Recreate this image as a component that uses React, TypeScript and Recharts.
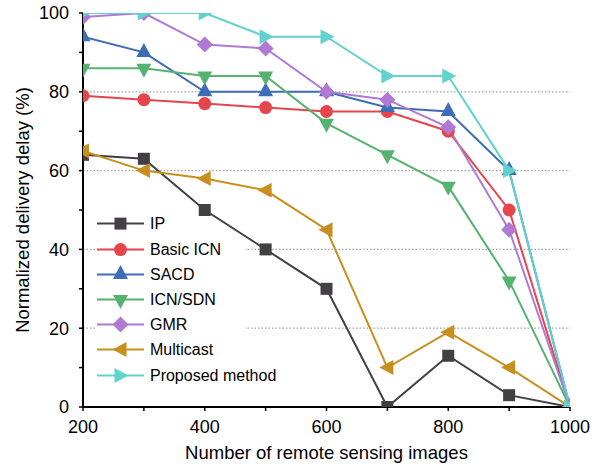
import React from "react";
import { LineChart, Line, XAxis, YAxis, ReferenceLine } from "recharts";

const imageCounts = [200, 300, 400, 500, 600, 700, 800, 900, 1000];
const ipDelay = [64, 63, 50, 40, 30, 0, 13, 3, 0];
const basicIcnDelay = [79, 78, 77, 76, 75, 75, 70, 50, 0];
const sacdDelay = [94, 90, 80, 80, 80, 76, 75, 60, 0];
const icnSdnDelay = [86, 86, 84, 84, 72, 64, 56, 32, 0];
const gmrDelay = [99, 100, 92, 91, 80, 78, 71, 45, 0];
const multicastDelay = [65, 60, 58, 55, 45, 10, 19, 10, 0];
const proposedDelay = [100, 100, 100, 94, 94, 84, 84, 60, 0];

const xTicks = [200, 300, 400, 500, 600, 700, 800, 900, 1000];
const yTicks = [0, 10, 20, 30, 40, 50, 60, 70, 80, 90, 100];
const gridValues = [20, 40, 60, 80];

const FONT = "'Liberation Sans', Arial, Helvetica, sans-serif";

type Shape = "square" | "circle" | "up" | "down" | "diamond" | "left" | "right";

const series: { key: string; name: string; color: string; shape: Shape; values: number[] }[] = [
  { key: "ip", name: "IP", color: "#433f45", shape: "square", values: ipDelay },
  { key: "basic", name: "Basic ICN", color: "#e6454b", shape: "circle", values: basicIcnDelay },
  { key: "sacd", name: "SACD", color: "#3c6db6", shape: "up", values: sacdDelay },
  { key: "icnsdn", name: "ICN/SDN", color: "#56b26f", shape: "down", values: icnSdnDelay },
  { key: "gmr", name: "GMR", color: "#b07ad4", shape: "diamond", values: gmrDelay },
  { key: "multicast", name: "Multicast", color: "#c88f1f", shape: "left", values: multicastDelay },
  { key: "proposed", name: "Proposed method", color: "#62d2cf", shape: "right", values: proposedDelay },
];

const data = imageCounts.map((x, i) => {
  const row: Record<string, number> = { x };
  series.forEach((s) => {
    row[s.key] = s.values[i];
  });
  return row;
});

function markerEl(shape: Shape, cx: number, cy: number, color: string, key?: any) {
  switch (shape) {
    case "square":
      return <rect key={key} x={cx - 6} y={cy - 6} width={12} height={12} fill={color} />;
    case "circle":
      return <circle key={key} cx={cx} cy={cy} r={6.5} fill={color} />;
    case "up":
      return (
        <polygon key={key} points={`${cx},${cy - 9.5} ${cx - 7.5},${cy + 4.5} ${cx + 7.5},${cy + 4.5}`} fill={color} />
      );
    case "down":
      return (
        <polygon key={key} points={`${cx},${cy + 9.5} ${cx - 7.5},${cy - 4.5} ${cx + 7.5},${cy - 4.5}`} fill={color} />
      );
    case "diamond":
      return (
        <polygon key={key} points={`${cx},${cy - 8} ${cx + 8},${cy} ${cx},${cy + 8} ${cx - 8},${cy}`} fill={color} />
      );
    case "left":
      return (
        <polygon key={key} points={`${cx - 8},${cy} ${cx + 6},${cy - 7.5} ${cx + 6},${cy + 7.5}`} fill={color} />
      );
    case "right":
      return (
        <polygon key={key} points={`${cx + 8},${cy} ${cx - 6},${cy - 7.5} ${cx - 6},${cy + 7.5}`} fill={color} />
      );
  }
  return null;
}

const YTick = (props: any) => {
  const { x, y, payload } = props;
  if (payload.value % 20 !== 0) return <g />;
  return (
    <text x={x} y={y} dy="0.355em" textAnchor="end" fontSize={18} fill="#000" fontFamily={FONT}>
      {payload.value}
    </text>
  );
};

const XTick = (props: any) => {
  const { x, y, payload } = props;
  if (payload.value % 200 !== 0) return <g />;
  return (
    <text x={x} y={y} dy="0.71em" textAnchor="middle" fontSize={18} fill="#000" fontFamily={FONT}>
      {payload.value}
    </text>
  );
};

const XTitle = (props: any) => {
  const vb = props.viewBox || {};
  return (
    <text x={vb.x + vb.width / 2} y={vb.y + 52} textAnchor="middle" fontSize={18.5} fill="#000" fontFamily={FONT}>
      Number of remote sensing images
    </text>
  );
};

const YTitle = (props: any) => {
  const vb = props.viewBox || {};
  const cx = 29;
  const cy = vb.y + vb.height / 2;
  return (
    <text
      x={cx}
      y={cy}
      transform={`rotate(-90 ${cx} ${cy})`}
      textAnchor="middle"
      fontSize={18.5}
      fill="#000"
      fontFamily={FONT}
    >
      Normalized delivery delay (%)
    </text>
  );
};

const LegendBox = () => (
  <div
    style={{
      position: "absolute",
      left: 97,
      top: 211.4,
      fontFamily: FONT,
      fontSize: 16,
      color: "#000",
    }}
  >
    {series.map((s, i) => (
      <div
        key={s.key}
        style={{
          height: 25.2,
          width: 148,
          display: "flex",
          alignItems: "center",
          whiteSpace: "nowrap",
          background: i === 0 ? "transparent" : "#fff",
        }}
      >
        <svg width={48} height={25.2} style={{ display: "block", overflow: "visible" }}>
          <line x1={0} x2={47} y1={12.6} y2={12.6} stroke={s.color} strokeWidth={2} />
          {markerEl(s.shape, 23.5, 12.6, s.color)}
        </svg>
        <span style={{ marginLeft: 5, lineHeight: "25.2px" }}>{s.name}</span>
      </div>
    ))}
  </div>
);

export default function App() {
  return (
    <div style={{ position: "absolute", left: 0, top: 0, width: 606, height: 469, background: "#fff" }}>
      <LineChart
        width={606}
        height={469}
        data={data}
        margin={{ top: 13, right: 36, left: 0, bottom: 0 }}
        style={{ fontFamily: FONT }}
      >
        <XAxis
          dataKey="x"
          type="number"
          domain={[200, 1000]}
          ticks={xTicks}
          allowDataOverflow
          height={62}
          tickSize={4}
          tickMargin={9}
          tick={<XTick />}
          axisLine={{ stroke: "#000", strokeWidth: 2 }}
          tickLine={{ stroke: "#000", strokeWidth: 1.5 }}
          label={<XTitle />}
        />
        <YAxis
          type="number"
          domain={[0, 100]}
          ticks={yTicks}
          allowDataOverflow
          width={83}
          tickSize={4}
          tickMargin={10}
          tick={<YTick />}
          axisLine={{ stroke: "#000", strokeWidth: 2 }}
          tickLine={{ stroke: "#000", strokeWidth: 1.5 }}
          label={<YTitle />}
        />
        {gridValues.map((v) => (
          <ReferenceLine key={v} y={v} stroke="#a0a0a0" strokeWidth={1.2} strokeDasharray="1.5 2" />
        ))}
        {series.map((s) => (
          <Line
            key={s.key}
            dataKey={s.key}
            name={s.name}
            stroke={s.color}
            strokeWidth={2}
            isAnimationActive={false}
            dot={(p: any) => markerEl(s.shape, p.cx, p.cy, s.color, `${s.key}-${p.index}`)}
            activeDot={false}
          />
        ))}
      </LineChart>
      <LegendBox />
    </div>
  );
}
